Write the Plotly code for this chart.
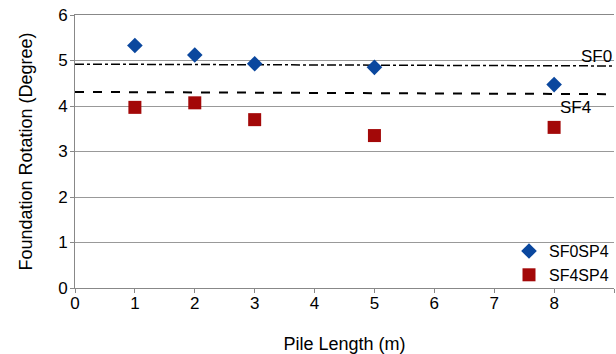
import plotly.graph_objects as go

pile_length = [1, 2, 3, 5, 8]
sf0sp4 = [5.33, 5.12, 4.93, 4.85, 4.47]
sf4sp4 = [3.97, 4.07, 3.70, 3.35, 3.53]
sf0_x = [0, 9]
sf0_y = [4.92, 4.88]
sf4_x = [0, 9]
sf4_y = [4.31, 4.26]

FONT = "Liberation Sans, Arial, sans-serif"

fig = go.Figure()
fig.add_trace(go.Scatter(x=sf0_x, y=sf0_y, mode="lines", showlegend=False,
                         line=dict(color="black", width=1.5, dash="dashdot")))
fig.add_trace(go.Scatter(x=sf4_x, y=sf4_y, mode="lines", showlegend=False,
                         line=dict(color="black", width=2, dash="dash")))
fig.add_trace(go.Scatter(x=pile_length, y=sf0sp4, mode="markers", name="SF0SP4",
                         marker=dict(symbol="diamond", size=12, color="#0A479E")))
fig.add_trace(go.Scatter(x=pile_length, y=sf4sp4, mode="markers", name="SF4SP4",
                         marker=dict(symbol="square", size=13, color="#A30808")))

fig.add_annotation(x=9.0, y=5.08, text="SF0", showarrow=False,
                   font=dict(size=17, color="black", family=FONT), xanchor="right")
fig.add_annotation(x=8.65, y=3.96, text="SF4", showarrow=False,
                   font=dict(size=17, color="black", family=FONT), xanchor="right")

fig.update_layout(
    width=616, height=354,
    margin=dict(l=75, r=2, t=15, b=66),
    paper_bgcolor="white", plot_bgcolor="white",
    font=dict(family=FONT, size=17, color="black"),
    legend=dict(x=1.0, y=-0.015, xanchor="right", yanchor="bottom",
                bgcolor="rgba(255,255,255,0)", font=dict(size=16, family=FONT),
                itemwidth=30, tracegroupgap=0),
    xaxis=dict(range=[0, 9], dtick=1, showgrid=False, showline=True, mirror=True,
               linecolor="#888", ticks="outside", ticklen=4, tickcolor="#888",
               ticklabelstandoff=-4,
               zeroline=False, automargin=False,
               title=dict(text="Pile Length (m)", font=dict(size=18), standoff=24)),
    yaxis=dict(range=[0, 6], dtick=1, showgrid=True, gridcolor="#999",
               gridwidth=1, showline=True, linecolor="#888", ticks="outside",
               ticklen=4, tickcolor="#888", ticklabelstandoff=-1,
               zeroline=False, automargin=False,
               title=dict(text="Foundation Rotation (Degree)", font=dict(size=18), standoff=20)),
)
fig.write_html("out.html", config={"displayModeBar": False},
               post_script="document.body.style.margin='0';")
